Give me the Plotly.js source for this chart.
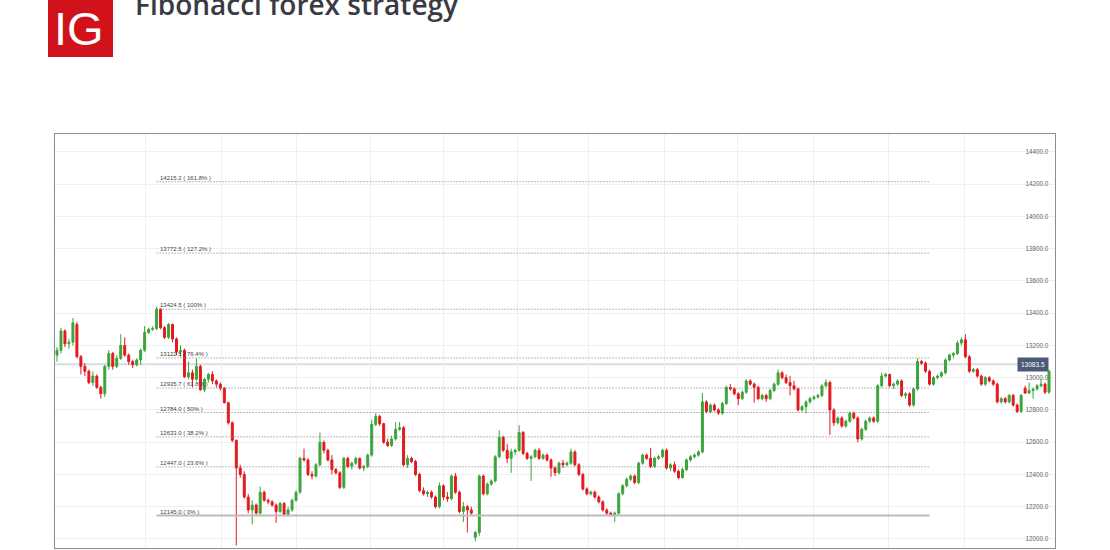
<!DOCTYPE html>
<html><head><meta charset="utf-8">
<script src="https://cdn.plot.ly/plotly-3.0.1.min.js"></script>
<style>html,body{margin:0;padding:0;background:#fff;} #chart{width:1110px;height:550px;}</style>
</head><body><div id="chart"></div>
<script>
const chartTitle = 'Fibonacci forex strategy';
const logoText = 'IG';

const opens = [
13140,13170,13290,13210,13220,13330,13130,13070,13040,12970,
13010,12940,12900,13070,13150,13070,13120,13200,13140,13100,
13080,13110,13170,13280,13300,13305,13425,13310,13250,13330,
13240,13160,13170,13005,13030,12990,13070,12925,12990,13020,
12980,12960,12935,12845,12720,12612,12440,12400,12260,12180,
12210,12160,12290,12240,12230,12210,12170,12220,12150,12180,
12240,12290,12500,12490,12400,12390,12460,12600,12550,12490,
12430,12410,12320,12500,12450,12470,12500,12440,12450,12520,
12710,12760,12715,12600,12580,12620,12680,12690,12460,12500,
12480,12400,12300,12280,12290,12260,12200,12330,12260,12250,
12390,12290,12170,12200,12180,12010,12040,12390,12280,12340,
12360,12510,12630,12550,12500,12540,12550,12660,12530,12500,
12510,12550,12500,12520,12490,12440,12410,12470,12460,12470,
12540,12460,12400,12310,12280,12290,12260,12230,12180,12160,
12150,12160,12280,12330,12370,12390,12350,12470,12520,12500,
12450,12500,12510,12550,12440,12460,12420,12380,12430,12490,
12510,12520,12540,12850,12790,12830,12800,12780,12840,12940,
12930,12900,12870,12910,12980,12960,12940,12870,12890,12870,
12920,12960,13030,13000,12970,12950,12930,12800,12820,12850,
12870,12880,12890,12950,12970,12800,12720,12750,12700,12730,
12780,12750,12620,12680,12730,12750,12730,12950,13010,13020,
12950,12960,12980,12890,12900,12830,12930,13100,13090,13040,
12960,13000,13010,13030,13110,13140,13150,13215,13235,13130,
13040,13050,13010,12960,13000,12980,12960,12850,12870,12850,
12890,12830,12790,12935,12905,12920,12930,12950,12960,12910];

const highs = [
13190,13310,13300,13240,13370,13345,13140,13090,13050,13040,
13020,12950,13080,13170,13160,13140,13270,13250,13150,13110,
13120,13180,13320,13310,13320,13440,13430,13320,13340,13335,
13250,13200,13180,13100,13050,13120,13080,13000,13030,13040,
12990,12970,12940,12850,12730,12615,12460,12420,12280,12240,
12220,12325,12300,12250,12240,12220,12230,12230,12200,12250,
12300,12510,12560,12500,12420,12470,12660,12610,12560,12520,
12440,12420,12510,12510,12480,12510,12505,12460,12530,12740,
12780,12770,12720,12620,12640,12725,12725,12700,12520,12510,
12490,12410,12320,12300,12300,12270,12350,12340,12290,12400,
12410,12300,12230,12210,12200,12050,12400,12400,12350,12370,
12520,12675,12640,12590,12560,12560,12705,12670,12540,12520,
12560,12565,12530,12530,12500,12450,12480,12490,12480,12560,
12550,12470,12410,12320,12300,12300,12270,12240,12190,12170,
12170,12290,12340,12380,12400,12400,12480,12530,12530,12565,
12510,12520,12560,12560,12470,12480,12430,12440,12500,12520,
12530,12550,12905,12860,12840,12840,12810,12850,12950,12960,
12940,12910,12920,12990,12990,12970,12950,12900,12900,12930,
12970,13050,13040,13020,13010,12980,12940,12830,12860,12880,
12890,12900,12960,12990,12980,12810,12760,12760,12740,12790,
12790,12760,12690,12740,12760,12760,12960,13030,13030,13025,
12970,12990,12990,12910,12910,12940,13120,13110,13100,13050,
13010,13020,13040,13120,13150,13160,13230,13250,13270,13140,
13060,13060,13020,13010,13010,12990,12970,12880,12880,12900,
12900,12840,12900,12950,12970,12940,12960,12990,12970,13050];

const lows = [
13100,13150,13190,13180,13200,13120,13020,13010,12960,12950,
12930,12870,12880,13050,13050,13060,13110,13130,13080,13060,
13070,13080,13160,13270,13290,13295,13300,13240,13240,13220,
13140,13130,13000,12990,12940,12980,12920,12910,12970,12960,
12940,12920,12840,12710,12600,11960,12380,12250,12160,12090,
12150,12150,12230,12215,12200,12100,12160,12140,12140,12170,
12230,12280,12480,12390,12370,12380,12450,12530,12480,12400,
12400,12310,12310,12440,12430,12460,12430,12420,12440,12510,
12700,12700,12590,12570,12570,12610,12670,12450,12440,12470,
12390,12290,12270,12260,12250,12190,12190,12240,12230,12240,
12280,12160,12105,12040,12150,11985,12020,12270,12270,12330,
12350,12500,12540,12470,12410,12520,12540,12520,12490,12360,
12500,12490,12490,12480,12385,12390,12400,12440,12450,12460,
12450,12390,12300,12270,12270,12250,12220,12170,12150,12140,
12105,12150,12270,12320,12360,12340,12340,12460,12490,12440,
12440,12490,12500,12430,12420,12410,12370,12375,12420,12480,
12500,12510,12530,12780,12780,12790,12770,12770,12830,12920,
12890,12830,12860,12900,12950,12845,12860,12860,12850,12860,
12910,12950,12990,12960,12890,12920,12790,12790,12780,12840,
12860,12870,12880,12940,12645,12700,12710,12690,12690,12720,
12740,12600,12610,12670,12720,12720,12720,12940,13000,12940,
12930,12950,12880,12870,12820,12820,12920,13080,13030,12950,
12950,12990,13000,13020,13100,13120,13140,13200,13120,13030,
13030,13000,12950,12950,12970,12950,12840,12840,12840,12840,
12820,12780,12780,12900,12900,12870,12920,12940,12900,12900];

const closes = [
13170,13290,13210,13220,13340,13130,13070,13040,12970,13010,
12940,12900,13070,13150,13070,13120,13200,13140,13100,13080,
13110,13170,13280,13300,13305,13425,13310,13250,13330,13240,
13160,13170,13005,13030,12990,13070,12925,12990,13020,12980,
12960,12935,12845,12720,12612,12440,12400,12260,12180,12210,
12160,12290,12240,12230,12210,12170,12220,12150,12180,12240,
12290,12500,12490,12400,12390,12460,12600,12550,12490,12430,
12410,12320,12500,12450,12470,12500,12440,12450,12520,12710,
12760,12715,12600,12580,12620,12680,12690,12460,12500,12480,
12400,12300,12280,12290,12260,12200,12330,12260,12250,12390,
12290,12170,12200,12180,12160,12040,12390,12280,12340,12360,
12510,12630,12550,12500,12540,12550,12660,12530,12500,12510,
12550,12500,12520,12490,12440,12410,12470,12460,12470,12540,
12460,12400,12310,12280,12290,12260,12230,12180,12160,12150,
12160,12280,12330,12370,12390,12350,12470,12520,12500,12450,
12500,12510,12550,12440,12460,12420,12380,12430,12490,12510,
12520,12540,12850,12790,12830,12800,12780,12840,12940,12930,
12900,12870,12910,12980,12960,12940,12870,12890,12870,12920,
12960,13030,13000,12970,12950,12930,12800,12820,12850,12870,
12880,12890,12950,12970,12800,12720,12750,12700,12730,12780,
12750,12620,12680,12730,12750,12730,12950,13010,13020,12950,
12960,12980,12890,12900,12830,12930,13100,13090,13040,12960,
13000,13010,13030,13110,13140,13150,13215,13235,13130,13040,
13050,13010,12960,13000,12980,12960,12850,12870,12850,12890,
12830,12790,12890,12905,12920,12930,12950,12960,12910,13040];

const fibLevels = [14215.2, 13772.5, 13424.5, 13122.5, 12935.7, 12784.0, 12633.0, 12447.0, 12145.0];
const fibPercents = ['161.8%', '127.2%', '100%', '76.4%', '61.8%', '50%', '38.2%', '23.6%', '0%'];
const fibStart = 25;   // candle index of the swing high
const fibEnd = 219;
const yTicks = [12000, 12200, 12400, 12600, 12800, 13000, 13200, 13400, 13600, 13800, 14000, 14200, 14400];
const gridTicks = [22.3, 41.2, 60.2, 78.8, 96.9, 115.7, 133.3, 152.4, 170.7, 190.0, 208.8, 227.7];
const lastPrice = 13083.5;

const idx = opens.map((_, i) => i);
const smallFont = 'Liberation Sans, Arial, sans-serif';

const traces = [];
fibLevels.forEach((lv, k) => {
  const isBase = fibPercents[k] === '0%';
  traces.push({
    type: 'scatter', mode: 'lines', x: [fibStart, fibEnd], y: [lv, lv],
    line: isBase ? {color: '#bcbcbc', width: 2} : {color: '#777777', width: 1, dash: '1px,2px'},
    hoverinfo: 'skip', showlegend: false
  });
});
traces.push({
  type: 'candlestick', x: idx, open: opens, high: highs, low: lows, close: closes,
  increasing: {line: {color: '#3aa53a', width: 1}, fillcolor: '#3aa53a'},
  decreasing: {line: {color: '#e3191f', width: 1}, fillcolor: '#e3191f'},
  whiskerwidth: 0, hoverinfo: 'skip', showlegend: false
});

const annotations = fibLevels.map((lv, k) => ({
  x: fibStart, y: lv, xref: 'x', yref: 'y', xanchor: 'left', yanchor: 'middle',
  xshift: 1, yshift: 4, showarrow: false,
  text: lv.toFixed(1) + ' ( ' + fibPercents[k] + ' )',
  font: {family: smallFont, size: 6, color: '#444'}
}));
annotations.push({
  x: 1, y: lastPrice, xref: 'paper', yref: 'y', xanchor: 'right', yanchor: 'middle',
  xshift: -6, showarrow: false, text: lastPrice.toFixed(1),
  bgcolor: '#4a5a78', borderpad: 3,
  font: {family: smallFont, size: 6.5, color: '#ffffff'}
});
annotations.push({
  x: 0.078, y: 1.264, xref: 'paper', yref: 'paper', xanchor: 'left', yanchor: 'bottom',
  showarrow: false, text: chartTitle,
  font: {family: 'Open Sans, sans-serif', size: 28, weight: 600, color: '#3a3a44'}
});
annotations.push({
  x: 0.024, y: 1.255, xref: 'paper', yref: 'paper', xanchor: 'center', yanchor: 'middle',
  showarrow: false, text: logoText,
  font: {family: smallFont, size: 47, color: '#ffffff'}
});

const layout = {
  width: 1110, height: 550,
  margin: {l: 55, r: 55, t: 134, b: 2, pad: 0},
  paper_bgcolor: '#ffffff', plot_bgcolor: '#ffffff',
  showlegend: false,
  xaxis: {
    range: [-0.5, 250.5], tickvals: gridTicks, showticklabels: false, ticks: '',
    showgrid: true, gridcolor: '#efefef', gridwidth: 1, zeroline: false,
    showline: true, linecolor: '#8c8c8c', linewidth: 1, mirror: true,
    rangeslider: {visible: false}, fixedrange: true
  },
  yaxis: {
    side: 'right', range: [11944, 14511], tickvals: yTicks,
    ticktext: yTicks.map(v => v.toFixed(1)), ticklabelposition: 'inside', ticks: '',
    ticklabelstandoff: 5,
    tickfont: {family: smallFont, size: 6.3, color: '#666'},
    showgrid: true, gridcolor: '#efefef', gridwidth: 1, zeroline: false,
    showline: true, linecolor: '#8c8c8c', linewidth: 1, mirror: true, fixedrange: true
  },
  shapes: [
    {type: 'line', xref: 'paper', yref: 'y', x0: 0, x1: 0.965, y0: lastPrice, y1: lastPrice,
     line: {color: '#d8dbe6', width: 2}, layer: 'below'},
    {type: 'rect', xref: 'paper', yref: 'paper', x0: -0.007, x1: 0.058, y0: 1.186, y1: 1.36,
     fillcolor: '#d1121a', line: {width: 0}, layer: 'above'}
  ],
  annotations: annotations
};

Plotly.newPlot('chart', traces, layout, {staticPlot: true, displayModeBar: false});
</script>
</body></html>
